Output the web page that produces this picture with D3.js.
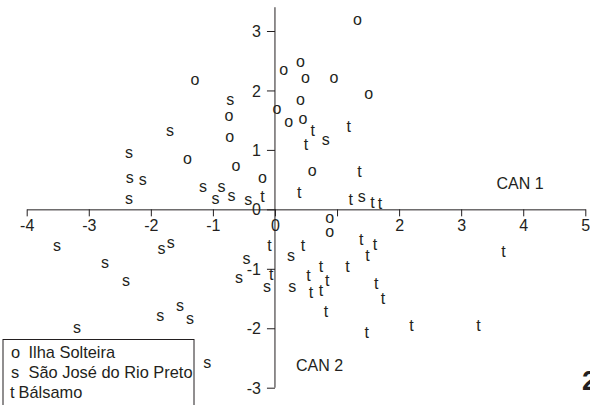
<!DOCTYPE html>
<html>
<head>
<meta charset="utf-8">
<script src="https://cdn.jsdelivr.net/npm/d3@7"></script>
<style>
    body { margin: 0; background: #fff; }
    svg { display: block; font-family: "Liberation Sans", Arial, sans-serif; }
</style>
</head>
<body>
<div id="plot"></div>
<script>
// Canonical scores per site (CAN 1, CAN 2)
const groupSymbols = ["o", "s", "t"];
const groupNames = ["Ilha Solteira", "São José do Rio Preto", "Bálsamo"];

const ilhaCan1 = [-1.29, -0.74, -0.73, -1.41, -0.63, -0.20, 0.14, 0.41, 0.03, 0.22, 1.33, 0.49, 0.95, 1.51, 0.41, 0.45, 0.60, 0.88, 0.88];
const ilhaCan2 = [2.16, 1.56, 1.21, 0.84, 0.71, 0.51, 2.33, 2.47, 1.67, 1.46, 3.17, 2.20, 2.19, 1.93, 1.83, 1.50, 0.63, -0.15, -0.39];

const saoJoseCan1 = [-0.72, -1.69, -2.35, -2.34, -2.13, -1.16, -0.86, -0.70, -0.96, -2.35, -0.43, 0.82, 1.40, -3.51, -1.83, -1.68, -0.46, 0.26, -2.74, -0.58, -2.40, -0.13, 0.28, -1.53, -1.85, -1.37, -3.19, -1.09];
const saoJoseCan2 = [1.82, 1.30, 0.94, 0.51, 0.48, 0.37, 0.36, 0.21, 0.16, 0.16, 0.14, 1.15, 0.19, -0.63, -0.68, -0.57, -0.84, -0.80, -0.92, -1.17, -1.22, -1.31, -1.31, -1.64, -1.81, -1.86, -2.00, -2.59];

const balsamoCan1 = [-0.20, 0.39, 0.61, 1.19, 0.50, 1.36, 1.22, 1.57, 1.69, -0.09, -0.06, 0.45, 1.39, 1.61, 1.49, 3.68, 0.74, 1.17, 0.54, 0.84, 1.63, 0.58, 0.74, 1.74, 0.82, 2.20, 3.28, 1.48];
const balsamoCan2 = [0.22, 0.28, 1.32, 1.39, 1.09, 0.63, 0.16, 0.12, 0.09, -0.61, -1.09, -0.61, -0.50, -0.59, -0.78, -0.71, -0.96, -0.96, -1.11, -1.19, -1.25, -1.40, -1.36, -1.50, -1.72, -1.95, -1.95, -2.07];

const xTicks = [-4, -3, -2, -1, 0, 1, 2, 3, 4, 5];
const xTickLabels = ["-4", "-3", "-2", "-1", "0", "", "2", "3", "4", "5"];
const yTicks = [-3, -2, -1, 0, 1, 2, 3];
const yTickLabels = ["-3", "-2", "-1", "0", "1", "2", "3"];

const width = 590;
const height = 405;
const ink = "#231f20";

const svg = d3.select("#plot")
    .append("svg")
    .attr("width", width)
    .attr("height", height);

// Scales (axes cross at the origin)
const x = d3.scaleLinear().domain([-4, 5]).range([26.7, 585.3]);
const y = d3.scaleLinear().domain([-3, 3]).range([387.7, 31]);

// X axis along CAN 2 = 0, ticks pointing down
const xAxis = svg.append("g")
    .attr("transform", `translate(0,${y(0)})`)
    .call(d3.axisBottom(x).tickValues(xTicks).tickSize(7).tickSizeOuter(0)
        .tickFormat((d, i) => xTickLabels[i]));
xAxis.select(".domain").attr("stroke", ink);
xAxis.selectAll(".tick line").attr("stroke", ink);
xAxis.selectAll(".tick text")
    .attr("fill", ink)
    .style("font-size", "16px")
    .attr("y", 16)
    .attr("dy", "0.35em");

// Y axis along CAN 1 = 0, ticks pointing left
const yAxis = svg.append("g")
    .attr("transform", `translate(${x(0)},0)`)
    .call(d3.axisLeft(y).tickValues(yTicks).tickSize(8).tickSizeOuter(0)
        .tickFormat((d, i) => yTickLabels[i]));
yAxis.select(".domain").attr("d", `M0,${y(-3)}V${y(3.4)}`).attr("stroke", ink);
yAxis.selectAll(".tick line").attr("stroke", ink);
yAxis.selectAll(".tick text")
    .attr("fill", ink)
    .style("font-size", "16px")
    .attr("x", -14)
    .attr("dy", "0.35em");

// Site points drawn as their letter symbols
const groups = [
    { sym: groupSymbols[0], xs: ilhaCan1, ys: ilhaCan2 },
    { sym: groupSymbols[1], xs: saoJoseCan1, ys: saoJoseCan2 },
    { sym: groupSymbols[2], xs: balsamoCan1, ys: balsamoCan2 }
];

groups.forEach(g => {
    svg.append("g")
        .selectAll("text")
        .data(g.xs.map((v, i) => ({ cx: v, cy: g.ys[i] })))
        .enter()
        .append("text")
        .attr("x", d => x(d.cx))
        .attr("y", d => y(d.cy))
        .attr("dy", g.sym === "t" ? "0.34em" : "0.27em")
        .attr("text-anchor", "middle")
        .attr("fill", ink)
        .style("font-size", "16px")
        .text(g.sym);
});

// Axis titles
svg.append("text")
    .attr("x", 496.5)
    .attr("y", 189)
    .attr("fill", ink)
    .style("font-size", "16px")
    .text("CAN 1");

svg.append("text")
    .attr("x", 296)
    .attr("y", 371)
    .attr("fill", ink)
    .style("font-size", "16px")
    .text("CAN 2");

// Legend box (runs off the bottom edge)
const legend = svg.append("g");
legend.append("rect")
    .attr("x", 3)
    .attr("y", 339.5)
    .attr("width", 191)
    .attr("height", 80)
    .attr("fill", "#fff")
    .attr("stroke", ink)
    .attr("stroke-width", 1);

groupNames.forEach((name, i) => {
    const row = legend.append("text")
        .attr("y", 352.5 + i * 19.8)
        .attr("dy", "0.35em")
        .attr("fill", ink)
        .style("font-size", "16.4px");
    row.append("tspan").attr("x", groupSymbols[i] === "t" ? 10 : 11).text(groupSymbols[i]);
    row.append("tspan").attr("x", groupSymbols[i] === "t" ? 18.5 : 28.5).text(name);
});

// Panel number, cut by the right edge
svg.append("text")
    .attr("x", 582)
    .attr("y", 390)
    .attr("fill", ink)
    .style("font-size", "27px")
    .style("font-weight", "bold")
    .text("2");
</script>
</body>
</html>
